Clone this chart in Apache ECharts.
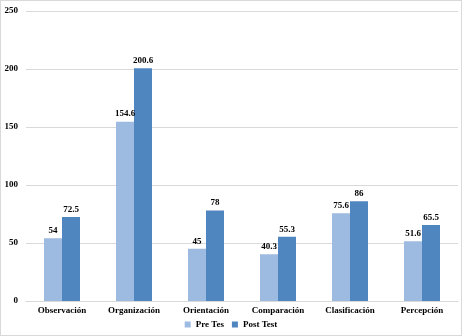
<!DOCTYPE html>
<html>
<head>
<meta charset="utf-8">
<script src="https://cdn.jsdelivr.net/npm/echarts@6/dist/echarts.min.js"></script>
<style>
  html, body { margin: 0; padding: 0; background: #fff; }
  #grafica { width: 460px; height: 334px; border: 1px solid #d9d9d9; }
</style>
</head>
<body>
<div id="grafica"></div>
<script>
// Datos de la gráfica
const categorias = ['Observación', 'Organización', 'Orientación', 'Comparación', 'Clasificación', 'Percepción'];
const preTest = [54, 154.6, 45, 40.3, 75.6, 51.6];
const postTest = [72.5, 200.6, 78, 55.3, 86, 65.5];
const nombresSeries = ['Pre Tes', 'Post Test'];

const chart = echarts.init(document.getElementById('grafica'));

const fuente = {
    fontFamily: 'Liberation Serif',
    fontSize: 9,
    fontWeight: 'bold',
    color: '#000'
};

let option = {
    animation: false,
    grid: {
        top: 10,
        left: 25,
        right: 3,
        bottom: 34
    },
    legend: {
        data: nombresSeries,
        bottom: 1,
        left: 'center',
        icon: 'rect',
        itemWidth: 6,
        itemHeight: 6,
        itemGap: 8,
        textStyle: fuente
    },
    xAxis: {
        type: 'category',
        data: categorias,
        axisLine: { lineStyle: { color: '#d9d9d9' } },
        axisTick: { show: false },
        axisLabel: Object.assign({ margin: 5 }, fuente)
    },
    yAxis: {
        type: 'value',
        min: 0,
        max: 250,
        interval: 50,
        axisLine: { show: false },
        axisTick: { show: false },
        axisLabel: Object.assign({ margin: 8 }, fuente),
        splitLine: { lineStyle: { color: '#d9d9d9' } }
    },
    series: [
        {
            name: nombresSeries[0],
            type: 'bar',
            barWidth: 18,
            barGap: '0%',
            itemStyle: { color: '#9dbbe1' },
            label: Object.assign({ show: true, position: 'top', distance: 3 }, fuente),
            data: preTest
        },
        {
            name: nombresSeries[1],
            type: 'bar',
            barWidth: 18,
            barGap: '0%',
            itemStyle: { color: '#4f86c0' },
            label: Object.assign({ show: true, position: 'top', distance: 3 }, fuente),
            data: postTest
        }
    ]
};

chart.setOption(option);
</script>
</body>
</html>
